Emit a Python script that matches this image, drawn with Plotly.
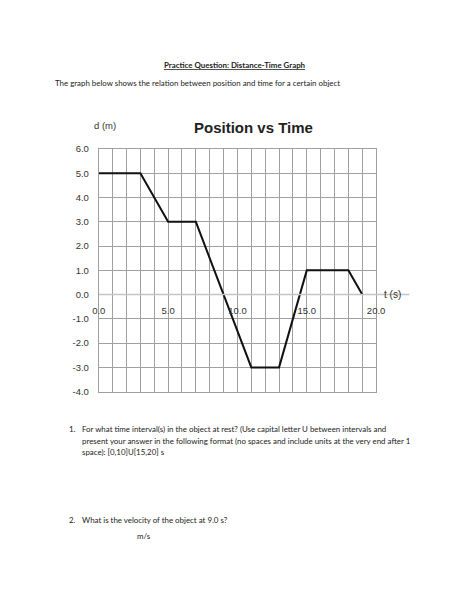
import plotly.graph_objects as go

# Data
t_values = [0, 3, 5, 7, 11, 13, 15, 18, 19]
d_values = [5, 5, 3, 3, -3, -3, 1, 1, 0]
y_ticks = [6, 5, 4, 3, 2, 1, 0, -1, -2, -3, -4]
x_ticks = [0, 5, 10, 15, 20]

W, H = 474, 611
x_left, x_right = 95 / W, 382 / W
y_top, y_bot = 1 - 145.7 / H, 1 - 392.7 / H
y0_pos = y_bot + (0 - (-4)) / 10 * (y_top - y_bot)

fig = go.Figure()
fig.add_trace(go.Scatter(x=t_values, y=d_values, mode="lines",
                         line=dict(color="#111111", width=2), showlegend=False,
                         hoverinfo="skip"))
# same data on the overlaying axis that carries the tick labels at d = 0
fig.add_trace(go.Scatter(x=t_values, y=d_values, xaxis="x2", mode="lines",
                         line=dict(color="rgba(0,0,0,0)", width=0), showlegend=False,
                         hoverinfo="skip"))

tick_font = dict(family="Liberation Sans, Arial", size=9.5, color="#333333")

fig.update_layout(
    width=W, height=H,
    margin=dict(l=0, r=0, t=0, b=0),
    paper_bgcolor="white", plot_bgcolor="white",
    xaxis=dict(domain=[x_left, x_right], range=[0, 20], dtick=1,
               showgrid=True, gridcolor="#a0a0a0", gridwidth=1,
               showticklabels=False, zeroline=False,
               showline=True, linecolor="#a0a0a0", mirror=True, ticks=""),
    yaxis=dict(domain=[y_bot, y_top], range=[-4, 6],
               tickvals=y_ticks, ticktext=[f"{v:.1f}" for v in y_ticks],
               showgrid=True, gridcolor="#a0a0a0", gridwidth=1,
               zeroline=False, showline=True, linecolor="#a0a0a0", mirror=True,
               ticks="", tickfont=tick_font, ticklabelstandoff=7),
    xaxis2=dict(overlaying="x", range=[0, 20],
                anchor="free", position=y0_pos, side="bottom",
                tickvals=x_ticks, ticktext=[f"{v:.1f}" for v in x_ticks],
                showgrid=False, zeroline=False, showline=False, ticks="",
                tickfont=tick_font, ticklabelstandoff=9),
    shapes=[dict(type="line", xref="x domain", yref="y", x0=0, x1=1.12,
                 y0=0, y1=0, line=dict(color="#c4c4c4", width=1.5))],
)

body_font = dict(family="Lato, Noto Sans", size=7.9, color="#222222")
dx = -7

annotations = [
    dict(x=236 / W, y=1 - 60 / H, text="<u><b>Practice Question: Distance-Time Graph</b></u>",
         xanchor="center", font=body_font),
    dict(x=(55 + dx) / W, y=1 - 78 / H,
         text="The graph below shows the relation between position and time for a certain object",
         xanchor="left", font=body_font),
    dict(x=255 / W, y=1 - 124 / H, text="<b>Position vs Time</b>",
         xanchor="center", font=dict(family="Liberation Sans, Arial", size=15, color="#222222")),
    dict(x=88 / W, y=1 - 122 / H, text="d (m)", xanchor="left",
         font=dict(family="Liberation Sans, Arial", size=9.5, color="#333333")),
    dict(x=388 / W, y=1 - 294 / H, text="t (s)", xanchor="left",
         font=dict(family="Liberation Sans, Arial", size=10, color="#333333")),
    dict(x=(69 + dx) / W, y=1 - 431 / H, text="1.", xanchor="left", font=body_font),
    dict(x=(83 + dx) / W, y=1 - 431 / H,
         text="For what time interval(s) in the object at rest? (Use capital letter U between intervals and",
         xanchor="left", font=body_font),
    dict(x=(83 + dx) / W, y=1 - 443 / H,
         text="present your answer in the following format (no spaces and include units at the very end after 1",
         xanchor="left", font=body_font),
    dict(x=(83 + dx) / W, y=1 - 454 / H, text="space): [0,10]U[15,20] s",
         xanchor="left", font=body_font),
    dict(x=(69 + dx) / W, y=1 - 523 / H, text="2.", xanchor="left", font=body_font),
    dict(x=(83 + dx) / W, y=1 - 523 / H, text="What is the velocity of the object at 9.0 s?",
         xanchor="left", font=body_font),
    dict(x=(139 + dx) / W, y=1 - 540 / H, text="m/s", xanchor="left", font=body_font),
]
for a in annotations:
    a.update(xref="paper", yref="paper", yanchor="middle", showarrow=False)
fig.update_layout(annotations=annotations)

fig.write_html("out.html", config={"displayModeBar": False},
               post_script="document.body.style.margin='0';")
